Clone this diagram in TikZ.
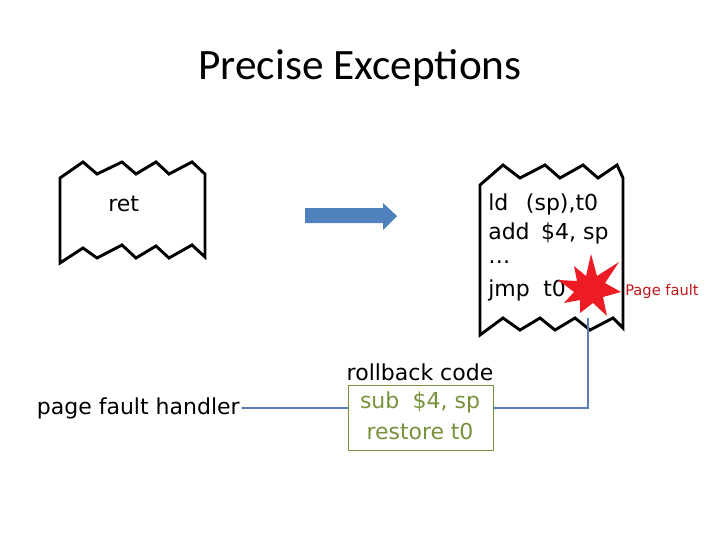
\documentclass[tikz,border=0pt]{standalone}
\usepackage{fontspec}
\setmainfont{DejaVu Sans}
\newfontfamily\titlefont{Carlito}
\usetikzlibrary{shapes.geometric}
\definecolor{steel}{HTML}{4F81BD}
\definecolor{linkc}{HTML}{5A7FAE}
\definecolor{oliv}{HTML}{76923C}
\definecolor{starred}{HTML}{ED1C24}
\begin{document}
\begin{tikzpicture}[x=0.75pt,y=-0.75pt,
  paper/.style={line width=2.2pt,line join=miter,fill=white},
  code/.style={anchor=west,font=\fontsize{16.5}{19}\selectfont,inner sep=0pt},
  link/.style={draw=linkc,line width=0.8pt}]
\useasboundingbox (0,0) rectangle (720,540);
\node[font=\titlefont\fontsize{32.5}{36}\selectfont] (title) at (360,68) {Precise Exceptions};
% left paper
\draw[paper] (60,178) -- (83,162) -- (97,174) -- (122,162) -- (136,174) -- (156,162) -- (169,174) -- (192,162) -- (205,174)
  -- (205,257) -- (192,245) -- (169,258) -- (156,246) -- (136,258) -- (122,245) -- (97,258) -- (83,248) -- (60,263) -- cycle;
\node[code] (ret) at (108,204) {ret};
% right paper
\draw[paper] (480,185) -- (503,165) -- (520,178) -- (545,165) -- (560,178) -- (583,165) -- (598,178) -- (617,165) -- (623,178)
  -- (623,328) -- (613,318) -- (590,330) -- (575,318) -- (555,330) -- (540,318) -- (520,330) -- (503,318) -- (480,335) -- cycle;
\node[code] (l1) at (488,204) {ld\hspace{0.8em}(sp),t0};
\node[code] (l2) at (488,233) {add\hspace{0.2em} \$4, sp};
\node[code] (l3) at (488,262) {\ldots};
\node[code] (l4) at (488,290) {jmp\hspace{0.3em} t0};
% arrow
\fill[steel] (305,208) -- (383,208) -- (383,203) -- (397,216) -- (383,230) -- (383,223) -- (305,223) -- cycle;
% star
\fill[starred] (591,254) -- (597,276) -- (619,262) -- (605,283) -- (621,292) -- (603,297) -- (607,316) -- (593,303)
  -- (580,313) -- (580,300) -- (564,303) -- (574,292) -- (558,280) -- (577,281) -- (574,266) -- (586,276) -- cycle;
\node[inner sep=0pt] (star) at (590,290) {};
\node[font=\fontsize{11}{13}\selectfont,text=starred!80!black,anchor=west,inner sep=0pt] (pf) at (625,291) {Page fault};
% rollback
\node[font=\fontsize{16.5}{19}\selectfont,inner sep=0pt] (rbl) at (420,372) {rollback code};
\node[draw=oliv,line width=0.6pt,minimum width=108.75pt,minimum height=48.75pt,inner sep=0pt] (rb) at (420.5,417.5) {};
\node[code,anchor=center,text=oliv] (s1) at (420,402) {sub\hspace{0.6em}\$4, sp};
\node[code,anchor=center,text=oliv] (s2) at (420,431) {restore\hspace{0.3em}t0};
\node[code,anchor=east] (pfh) at (240,408) {page fault handler};
\coordinate (d1) at (243,408);
\coordinate (d2) at (495,408);
\coordinate (c1) at (588,408);
\coordinate (c2) at (588,318);
\draw[link] (d1) -- (rb.west|-d1);
\fill[linkc] (d1) circle (1.6) (d2) circle (1.6);
\draw[link] (d2) -- (c1) -- (c2);
\end{tikzpicture}
\end{document}
